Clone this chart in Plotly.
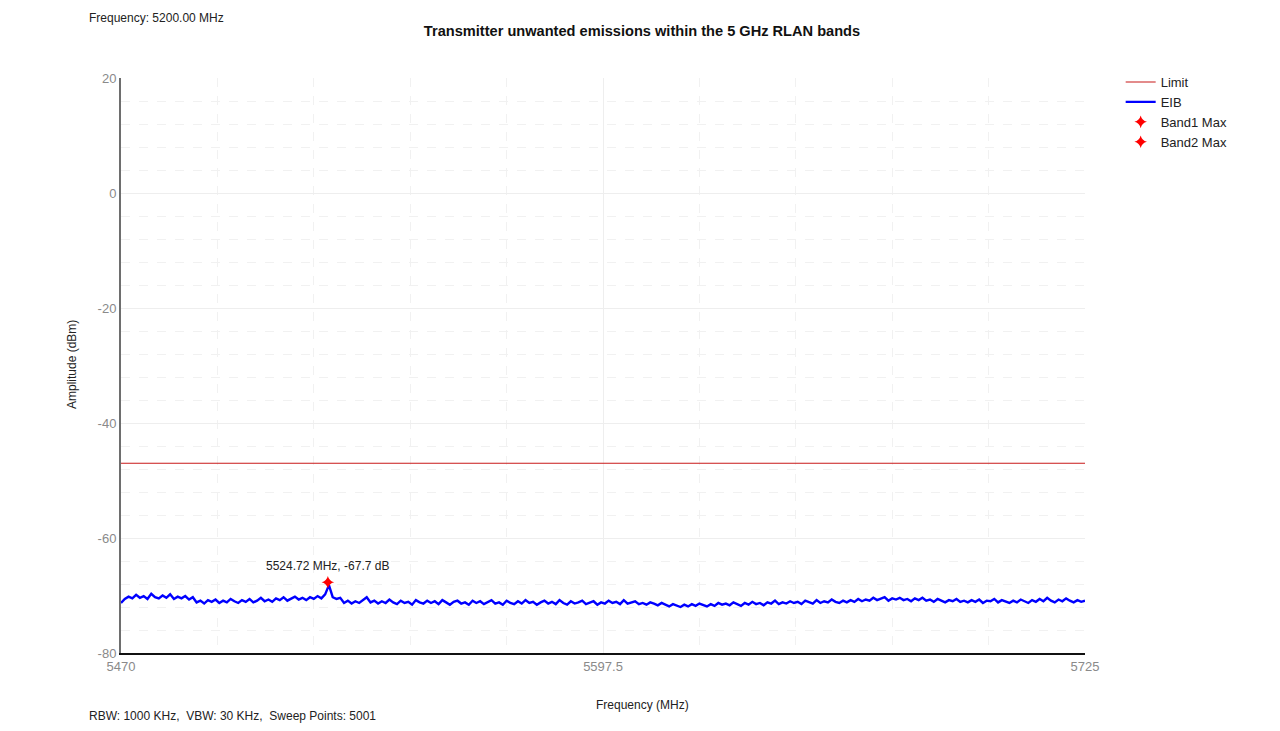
import plotly.graph_objects as go

# sweep settings
f_start = 5470.0
f_stop = 5725.0
f_step = 1.0

limit_db = -47.0

# EIB trace, 1 MHz resolution
eib = [
    -71.3, -70.6, -70.2, -70.5, -69.9, -70.4, -70.1, -70.6, -69.7, -70.3, -70.5, -70.0, -70.4, -69.8, -70.6, -70.2,
    -70.5, -70.1, -70.7, -70.3, -71.2, -70.9, -71.4, -70.8, -71.1, -70.7, -71.3, -70.9, -71.2, -70.6, -71.0, -71.3,
    -70.8, -71.1, -70.6, -71.2, -70.9, -70.4, -71.0, -70.7, -71.1, -70.5, -70.8, -70.3, -70.9, -70.6, -70.2, -70.7,
    -70.4, -70.8, -70.3, -70.6, -70.1, -70.5, -69.8, -68.2, -70.3, -70.6, -70.4, -71.3, -70.9, -71.4, -71.0, -71.3,
    -70.8, -70.3, -71.2, -70.9, -71.4, -71.0, -71.3, -70.7, -71.2, -71.5, -70.9, -71.3, -71.1, -71.6, -70.8, -71.2,
    -71.4, -70.9, -71.3, -71.0, -71.5, -70.8, -71.2, -71.6, -71.1, -70.9, -71.4, -71.2, -71.6, -70.9, -71.3, -71.0,
    -71.5, -71.1, -70.8, -71.4, -71.2, -71.6, -70.9, -71.3, -71.5, -71.0, -71.4, -70.8, -71.3, -71.1, -71.6, -71.2,
    -70.9, -71.4, -71.1, -71.5, -70.8, -71.3, -71.6, -71.0, -71.4, -71.2, -70.9, -71.5, -71.3, -71.0, -71.6, -71.2,
    -71.4, -70.9, -71.3, -71.1, -71.5, -70.8, -71.4, -71.2, -71.0, -71.5, -71.3, -71.6, -71.2, -71.4, -71.7, -71.3,
    -71.6, -71.9, -71.5, -71.8, -72.0, -71.6, -71.9, -71.5, -71.8, -71.4, -71.7, -71.9, -71.5, -71.8, -71.3, -71.6,
    -71.4, -71.7, -71.2, -71.5, -71.8, -71.3, -71.6, -71.1, -71.5, -71.3, -71.7, -71.2, -71.4, -70.9, -71.5, -71.2,
    -71.4, -71.0, -71.3, -71.1, -71.5, -70.9, -71.2, -71.4, -70.8, -71.3, -71.0, -71.2, -70.7, -71.1, -71.3, -70.9,
    -71.2, -70.8, -71.1, -70.6, -71.0, -70.7, -70.9, -70.4, -70.8, -70.6, -70.3, -70.9, -70.5, -70.7, -70.4, -70.8,
    -70.6, -71.0, -70.5, -70.8, -70.4, -70.9, -70.7, -71.1, -70.6, -70.9, -71.2, -70.8, -71.0, -70.6, -71.1, -70.9,
    -71.2, -70.8, -71.1, -70.7, -71.3, -70.9, -71.0, -70.6, -71.2, -70.8, -71.1, -71.3, -70.9, -71.2, -70.7, -71.0,
    -71.3, -70.8, -71.1, -70.6, -71.0, -70.4, -70.9, -71.2, -70.7, -71.0, -70.5, -70.9, -71.2, -70.8, -71.1, -70.9,
]
freqs = [f_start + i * f_step for i in range(len(eib))]

band1_max_f = [5524.72]
band1_max_db = [-67.7]

x_ticks = [5470, 5597.5, 5725]
x_labels = ['5470', '5597.5', '5725']
y_ticks = [20, 0, -20, -40, -60, -80]
y_labels = ['20', '0', '-20', '-40', '-60', '-80']

font = 'Liberation Sans, Arial, sans-serif'

# page body has an 8px margin, so the figure is 8px smaller and margins shifted
OFF = 8
W, H = 1280 - OFF, 731 - OFF
L, R, T, B = 121 - OFF, 195, 78 - OFF, 78

fig = go.Figure()
fig.add_trace(go.Scatter(x=[f_start, f_stop], y=[limit_db, limit_db], mode='lines',
                         name='Limit', line=dict(color='#c81818', width=1.2)))
fig.add_trace(go.Scatter(x=freqs, y=eib, mode='lines', name='EIB',
                         line=dict(color='#0000ff', width=2.4)))
fig.add_trace(go.Scatter(x=band1_max_f, y=band1_max_db, mode='markers', name='Band1 Max',
                         marker=dict(symbol='star-diamond', color='#ff0000', size=9)))
fig.add_trace(go.Scatter(x=[None], y=[None], mode='markers', name='Band2 Max',
                         marker=dict(symbol='star-diamond', color='#ff0000', size=9)))

fig.add_annotation(x=band1_max_f[0], y=band1_max_db[0], text='5524.72 MHz, -67.7 dB',
                   showarrow=False, yshift=16, font=dict(size=12, color='#222222'))

fig.update_layout(
    width=W, height=H,
    paper_bgcolor='white', plot_bgcolor='white',
    margin=dict(l=L, r=R, t=T, b=B),
    font=dict(family=font, size=12, color='#222222'),
    title=dict(text='<b>Transmitter unwanted emissions within the 5 GHz RLAN bands</b>',
               x=(642 - OFF) / W, xref='container', xanchor='center',
               y=1 - (31 - OFF) / H, yref='container', yanchor='middle',
               font=dict(size=14.6, color='#111111')),
    showlegend=True,
    legend=dict(x=1.037, y=1.019, xanchor='left', yanchor='top', bgcolor='rgba(0,0,0,0)',
                font=dict(size=13, color='#222222'), tracegroupgap=0, itemwidth=30),
    xaxis=dict(range=[f_start, f_stop], tickvals=x_ticks, ticktext=x_labels,
               showgrid=True, gridcolor='#eeeeee', gridwidth=1,
               showline=True, linecolor='#111111', linewidth=2,
               ticks='', tickfont=dict(size=13, color='#8a8a8a'), zeroline=False,
               minor=dict(dtick=25.5, tick0=f_start, showgrid=True, gridcolor='#f1f1f1',
                          griddash='dash', gridwidth=1)),
    yaxis=dict(range=[-80, 20], tickvals=y_ticks, ticktext=y_labels,
               showgrid=True, gridcolor='#eeeeee', gridwidth=1,
               showline=True, linecolor='#6e6e6e', linewidth=2,
               ticks='', tickfont=dict(size=13, color='#8a8a8a'), zeroline=False,
               minor=dict(dtick=4, tick0=-80, showgrid=True, gridcolor='#f1f1f1',
                          griddash='dash', gridwidth=1)),
)


def px_x(px):
    return (px - 121) / 964


def px_y(py):
    return (653 - py) / 575


fig.add_annotation(x=px_x(87), y=px_y(18), xref='paper', yref='paper', xanchor='left',
                   yanchor='middle', text='Frequency: 5200.00 MHz', showarrow=False,
                   font=dict(size=12, color='#222222'))
fig.add_annotation(x=px_x(87), y=px_y(716), xref='paper', yref='paper', xanchor='left',
                   yanchor='middle', text='RBW: 1000 KHz,  VBW: 30 KHz,  Sweep Points: 5001',
                   showarrow=False, font=dict(size=12, color='#222222'))
fig.add_annotation(x=px_x(642), y=px_y(705), xref='paper', yref='paper', xanchor='center',
                   yanchor='middle', text='Frequency (MHz)', showarrow=False,
                   font=dict(size=12, color='#222222'))
fig.add_annotation(x=px_x(72), y=px_y(365), xref='paper', yref='paper', xanchor='center',
                   yanchor='middle', text='Amplitude (dBm)', textangle=-90, showarrow=False,
                   font=dict(size=12, color='#222222'))

fig.write_html('out.html')
